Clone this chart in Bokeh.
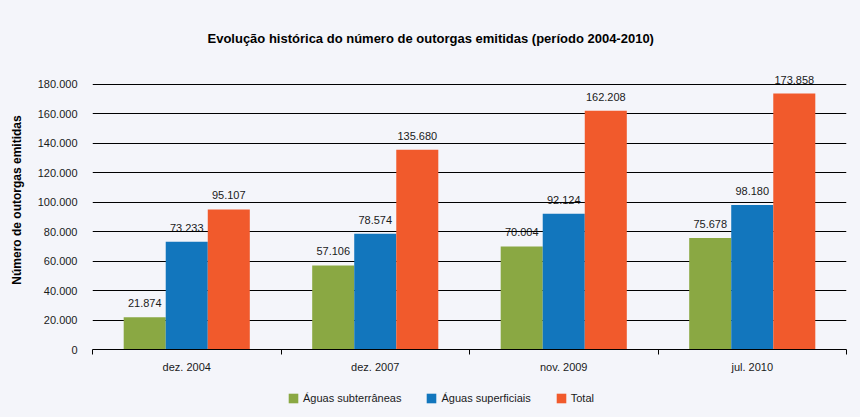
from bokeh.plotting import figure
from bokeh.layouts import column
from bokeh.models import (ColumnDataSource, FixedTicker, Legend, LegendItem, Range1d)
from bokeh.embed import file_html
from bokeh.resources import INLINE

categories = ["dez. 2004", "dez. 2007", "nov. 2009", "jul. 2010"]
subterraneas = [21874, 57106, 70004, 75678]
superficiais = [73233, 78574, 92124, 98180]
total = [95107, 135680, 162208, 173858]
series_names = ["Águas subterrâneas", "Águas superficiais", "Total"]
series_colors = ["#8AA843", "#1276BD", "#F15A2C"]
y_ticks = [0, 20000, 40000, 60000, 80000, 100000, 120000, 140000, 160000, 180000]
title_text = "Evolução histórica do número de outorgas emitidas (período 2004-2010)"
y_label = "Número de outorgas emitidas"

BG = "#F4F5FA"
FONT = "Liberation Sans"


def fmt(v):
    return f"{v:,}".replace(",", ".")


p = figure(frame_width=754, frame_height=299, output_backend="svg",
           toolbar_location=None,
           x_range=Range1d(0, len(categories)), y_range=Range1d(0, 203094),
           min_border_left=92, min_border_right=12, min_border_top=50,
           min_border_bottom=30)
p.background_fill_color = BG
p.border_fill_color = BG
p.outline_line_color = None

p.title.text = title_text
p.title.text_font = FONT
p.title.text_font_size = "13px"
p.title.text_font_style = "bold"
p.title.align = "left"
p.title.text_color = "#000000"
p.title.offset = 115

width = 0.223
offsets = [-width, 0.0, width]
for vals, off, col in zip([subterraneas, superficiais, total], offsets, series_colors):
    xs = [i + 0.5 + off for i in range(len(categories))]
    labels = [fmt(v) for v in vals]
    src = ColumnDataSource(dict(x=xs, top=vals, lab=labels))
    p.vbar(x="x", top="top", width=width, source=src, fill_color=col,
           line_color=None)
    t = p.text(x="x", y="top", text="lab", source=src, text_align="center",
               text_baseline="middle", y_offset=-14, text_font_size="11px",
               text_color="#1a1a1a", text_font={"value": FONT})
    t.level = "image"

# axes
p.xaxis.ticker = FixedTicker(ticks=[i + 0.5 for i in range(len(categories))],
                             minor_ticks=list(range(len(categories) + 1)))
p.xaxis.major_label_overrides = {i + 0.5: c for i, c in enumerate(categories)}
p.xaxis.major_tick_line_color = None
p.xaxis.major_tick_out = 0
p.xaxis.major_tick_in = 0
p.xaxis.minor_tick_line_color = "#000000"
p.xaxis.minor_tick_in = 0
p.xaxis.minor_tick_out = 5
p.xaxis.axis_line_color = "#000000"
p.xaxis.major_label_standoff = 6
p.xaxis.major_label_text_font = FONT
p.xaxis.major_label_text_font_size = "11px"
p.xaxis.major_label_text_color = "#1a1a1a"

p.yaxis.ticker = FixedTicker(ticks=y_ticks, minor_ticks=[])
p.yaxis.major_label_overrides = {v: fmt(v) for v in y_ticks}
p.yaxis.axis_line_color = None
p.yaxis.major_tick_line_color = None
p.yaxis.minor_tick_line_color = None
p.yaxis.major_label_standoff = 9
p.yaxis.major_label_text_font = FONT
p.yaxis.major_label_text_font_size = "11px"
p.yaxis.major_label_text_color = "#1a1a1a"
p.yaxis.axis_label = y_label
p.yaxis.axis_label_text_font = FONT
p.yaxis.axis_label_text_font_size = "12px"
p.yaxis.axis_label_text_font_style = "bold"
p.yaxis.axis_label_text_color = "#000000"
p.yaxis.axis_label_standoff = 11

p.xgrid.grid_line_color = None
p.ygrid.grid_line_color = "#000000"
p.ygrid.grid_line_width = 1

# legend strip below the chart
lg = figure(width=858, height=38, output_backend="svg", toolbar_location=None,
            x_range=Range1d(0, 1), y_range=Range1d(0, 1),
            min_border=0)
lg.background_fill_color = BG
lg.border_fill_color = BG
lg.outline_line_color = None
lg.axis.visible = False
lg.grid.grid_line_color = None
items = []
for col, name in zip(series_colors, series_names):
    # zero-size placeholder bar: only provides the legend swatch style
    r = lg.vbar(x=[0], top=[0], bottom=[0], width=0, fill_color=col,
                line_color=None)
    items.append(LegendItem(label=name, renderers=[r]))
legend = Legend(items=items, orientation="horizontal", location=(195, 13),
                glyph_width=12, glyph_height=12, label_standoff=4, spacing=24,
                padding=2, margin=0, border_line_color=None,
                background_fill_alpha=0, label_text_font=FONT,
                label_text_font_size="11px", label_text_color="#1a1a1a")
lg.add_layout(legend, "center")

layout = column(p, lg, spacing=0)

html = file_html(layout, INLINE)
html = html.replace("<head>", "<head><style>body{background:%s;}</style>" % BG, 1)
open("out.html", "w").write(html)
